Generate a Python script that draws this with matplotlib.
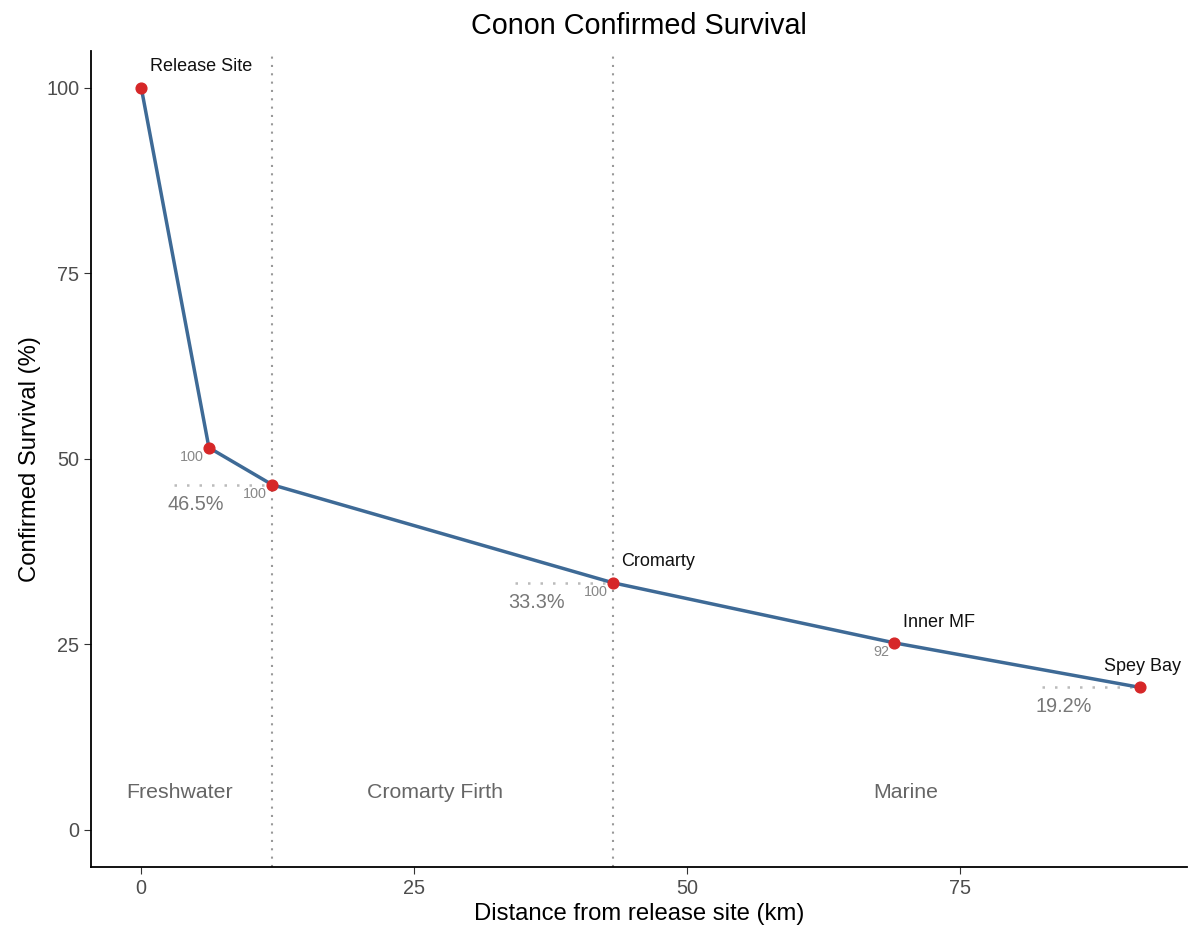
import numpy as np
import matplotlib.pyplot as plt

plt.rcParams['font.family'] = ['Liberation Sans', 'DejaVu Sans']

sites = ["Release Site", "", "", "Cromarty", "Inner MF", "Spey Bay"]
distance = [0, 6.2, 12.0, 43.2, 69.0, 91.5]
survival = [100, 51.5, 46.5, 33.3, 25.2, 19.2]
detect_eff = ["", "100", "100", "100", "92", ""]
pct_labels = {2: "46.5%", 3: "33.3%", 5: "19.2%"}
boundaries = [12.0, 43.2]
regions = ["Freshwater", "Cromarty Firth", "Marine"]
region_x = [3.5, 26.9, 70.0]

fig = plt.figure(figsize=(11.9, 9.31), dpi=100)
ax = fig.add_axes([0.0765, 0.0687, 0.921, 0.877])

for b in boundaries:
    ax.axvline(b, color="#999999", ls=(0, (1, 3)), lw=1.5, zorder=1)

for i, lab in pct_labels.items():
    ax.plot([distance[i] - 9, distance[i]], [survival[i], survival[i]],
            color="#bbbbbb", ls=(0, (1, 4)), lw=1.8, zorder=1)
    ax.text(distance[i] - 7, survival[i] - 2.6, lab, ha="center", va="center",
            fontsize=14.3, color="#777777")

ax.plot(distance, survival, color="#3e6a96", lw=2.5, zorder=2)
ax.scatter(distance, survival, color="#d62728", s=60, zorder=3)

for x, y, s in zip(distance, survival, sites):
    if s:
        # last label sits left of its point so it stays inside the figure
        dx = -3.3 if x == distance[-1] else 0.8
        ax.text(x + dx, y + 2.8, s, ha="left", va="center", fontsize=13, color="#111111")

for x, y, d in zip(distance, survival, detect_eff):
    if d:
        ax.text(x - 0.5, y - 1.2, d, ha="right", va="center", fontsize=10.4, color="#888888")

for x, r in zip(region_x, regions):
    ax.text(x, 5.1, r, ha="center", va="center", fontsize=15.3, color="#666666")

ax.set_xlim(-4.6, 95.8)
ax.set_ylim(-5, 105)
ax.set_xticks([0, 25, 50, 75])
ax.set_yticks([0, 25, 50, 75, 100])
ax.tick_params(labelsize=14.3, labelcolor="#4d4d4d", length=5, color="#333333")
for sp in ["top", "right"]:
    ax.spines[sp].set_visible(False)
for sp in ["left", "bottom"]:
    ax.spines[sp].set_linewidth(1.3)

ax.set_xlabel("Distance from release site (km)", fontsize=17.2)
ax.set_ylabel("Confirmed Survival (%)", fontsize=17.2)
ax.set_title("Conon Confirmed Survival", fontsize=20.7, pad=12)

fig.savefig("out.png", dpi=100)
